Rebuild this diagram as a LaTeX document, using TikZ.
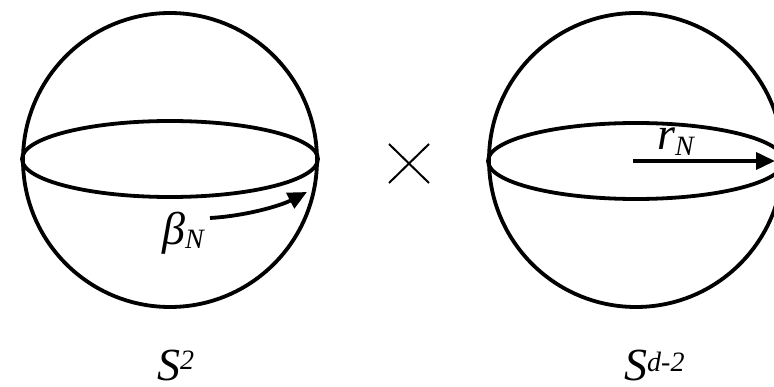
\documentclass[tikz,border=0pt]{standalone}
\usepackage{fontspec}
\setmainfont{Liberation Serif}
\usetikzlibrary{arrows.meta}

\newcommand{\idx}[2]{\raisebox{#1}{\fontsize{28}{28}\selectfont #2}}

\begin{document}
\begin{tikzpicture}[
    x=1pt, y=-1pt,
    sphere/.style={line width=3.8pt},
    arr/.style={line width=3.8pt, -{Triangle[length=19pt, width=17pt]}},
    lbl/.style={font=\fontsize{46}{48}\selectfont\itshape, inner sep=0pt,
                text depth=0pt, anchor=base west}
  ]
    \useasboundingbox (0,0) rectangle (774,387);
    \clip (0,0) rectangle (774,387);
    % left sphere
    \draw[sphere] (170,160) circle (147);
    \draw[sphere] (170,159) ellipse (148 and 38);
    \coordinate (bstart) at (210,218);
    \coordinate (bend) at (307,192);
    \draw[arr] (bstart) .. controls (245,216) and (280,206) .. (bend);
    \node[lbl] (beta) at (162,245) {β\idx{-4pt}{N}};
    \node[lbl] (s2) at (157,381) {S\idx{11pt}{2}};
    % times sign
    \draw[line width=2pt] (389,144) -- (429,183) (429,144) -- (389,183);
    % right sphere
    \draw[sphere] (636,160) circle (147);
    \draw[sphere] (636,161) ellipse (148 and 38);
    \coordinate (rstart) at (633,161);
    \coordinate (rend) at (775,161);
    \draw[arr] (rstart) -- (rend);
    \node[lbl] (rN) at (657,150) {r\idx{-6pt}{N}};
    \node[lbl] (sd2) at (624,381) {S\idx{9pt}{d-2}};
\end{tikzpicture}
\end{document}
